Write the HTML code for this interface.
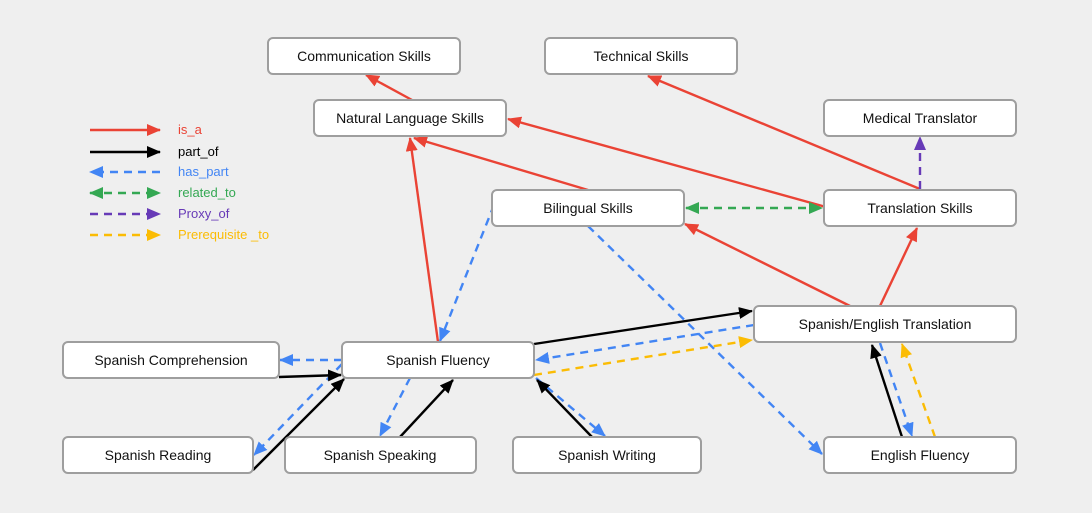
<!DOCTYPE html>
<html><head><meta charset="utf-8"><style>
html,body{margin:0;padding:0;background:#efefef;}
svg{display:block;}
text{font-family:"Liberation Sans",sans-serif;}
</style></head><body>
<svg width="1092" height="513" viewBox="0 0 1092 513" xmlns="http://www.w3.org/2000/svg">
<defs>
<marker id="r" markerWidth="14" markerHeight="12" refX="13" refY="6" orient="auto" markerUnits="userSpaceOnUse"><path d="M0,0L14,6L0,12z" fill="#ea4335"/></marker>
<marker id="k" markerWidth="14" markerHeight="12" refX="13" refY="6" orient="auto" markerUnits="userSpaceOnUse"><path d="M0,0L14,6L0,12z" fill="#000"/></marker>
<marker id="b" markerWidth="14" markerHeight="12" refX="13" refY="6" orient="auto" markerUnits="userSpaceOnUse"><path d="M0,0L14,6L0,12z" fill="#4285f4"/></marker>
<marker id="g" markerWidth="14" markerHeight="12" refX="13" refY="6" orient="auto-start-reverse" markerUnits="userSpaceOnUse"><path d="M0,0L14,6L0,12z" fill="#34a853"/></marker>
<marker id="p" markerWidth="14" markerHeight="12" refX="13" refY="6" orient="auto" markerUnits="userSpaceOnUse"><path d="M0,0L14,6L0,12z" fill="#673ab7"/></marker>
<marker id="y" markerWidth="14" markerHeight="12" refX="13" refY="6" orient="auto" markerUnits="userSpaceOnUse"><path d="M0,0L14,6L0,12z" fill="#fbbc04"/></marker>
</defs>
<rect width="1092" height="513" fill="#efefef"/>
<g stroke-width="2.4" fill="none">
<!-- legend -->
<line x1="90" y1="130" x2="160" y2="130" stroke="#ea4335" marker-end="url(#r)"/>
<line x1="90" y1="152" x2="160" y2="152" stroke="#000" marker-end="url(#k)"/>
<line x1="160" y1="172" x2="90" y2="172" stroke="#4285f4" stroke-dasharray="8,6" marker-end="url(#b)"/>
<line x1="90" y1="193" x2="160" y2="193" stroke="#34a853" stroke-dasharray="8,6" marker-start="url(#g)" marker-end="url(#g)"/>
<line x1="90" y1="214" x2="160" y2="214" stroke="#673ab7" stroke-dasharray="8,6" marker-end="url(#p)"/>
<line x1="90" y1="235" x2="160" y2="235" stroke="#fbbc04" stroke-dasharray="8,6" marker-end="url(#y)"/>
<!-- red -->
<line x1="412" y1="100" x2="366" y2="75" stroke="#ea4335" marker-end="url(#r)"/>
<line x1="920" y1="189" x2="648" y2="76" stroke="#ea4335" marker-end="url(#r)"/>
<line x1="826" y1="207" x2="508" y2="119" stroke="#ea4335" marker-end="url(#r)"/>
<line x1="588" y1="190" x2="414" y2="138" stroke="#ea4335" marker-end="url(#r)"/>
<line x1="438" y1="342" x2="410" y2="138" stroke="#ea4335" marker-end="url(#r)"/>
<line x1="850" y1="306" x2="685" y2="224" stroke="#ea4335" marker-end="url(#r)"/>
<line x1="880" y1="306" x2="917" y2="228" stroke="#ea4335" marker-end="url(#r)"/>
<!-- purple / green -->
<line x1="920" y1="189" x2="920" y2="137" stroke="#673ab7" stroke-dasharray="8,6" marker-end="url(#p)"/>
<line x1="686" y1="208" x2="822" y2="208" stroke="#34a853" stroke-dasharray="8,6" marker-start="url(#g)" marker-end="url(#g)"/>
<!-- blue dashed -->
<line x1="494" y1="205" x2="440" y2="341" stroke="#4285f4" stroke-dasharray="8,6" marker-end="url(#b)"/>
<line x1="588" y1="226" x2="822" y2="454" stroke="#4285f4" stroke-dasharray="8,6" marker-end="url(#b)"/>
<line x1="754" y1="325" x2="536" y2="360" stroke="#4285f4" stroke-dasharray="8,6" marker-end="url(#b)"/>
<line x1="536" y1="378" x2="605" y2="436" stroke="#4285f4" stroke-dasharray="8,6" marker-end="url(#b)"/>
<line x1="342" y1="360" x2="280" y2="360" stroke="#4285f4" stroke-dasharray="8,6" marker-end="url(#b)"/>
<line x1="342" y1="364" x2="254" y2="455" stroke="#4285f4" stroke-dasharray="8,6" marker-end="url(#b)"/>
<line x1="410" y1="378" x2="380" y2="436" stroke="#4285f4" stroke-dasharray="8,6" marker-end="url(#b)"/>
<line x1="880" y1="343" x2="912" y2="436" stroke="#4285f4" stroke-dasharray="8,6" marker-end="url(#b)"/>
<!-- yellow -->
<line x1="534" y1="375" x2="752" y2="340" stroke="#fbbc04" stroke-dasharray="8,6" marker-end="url(#y)"/>
<line x1="935" y1="437" x2="902" y2="344" stroke="#fbbc04" stroke-dasharray="8,6" marker-end="url(#y)"/>
<!-- black -->
<line x1="534" y1="344" x2="752" y2="311" stroke="#000" marker-end="url(#k)"/>
<line x1="592" y1="437" x2="537" y2="380" stroke="#000" marker-end="url(#k)"/>
<line x1="279" y1="377" x2="341" y2="375" stroke="#000" marker-end="url(#k)"/>
<line x1="253" y1="470" x2="344" y2="379" stroke="#000" marker-end="url(#k)"/>
<line x1="400" y1="437" x2="453" y2="380" stroke="#000" marker-end="url(#k)"/>
<line x1="902" y1="437" x2="872" y2="345" stroke="#000" marker-end="url(#k)"/>
</g>
<g fill="#fff" stroke="#9e9e9e" stroke-width="2">
<rect x="268" y="38" width="192" height="36" rx="5"/>
<rect x="545" y="38" width="192" height="36" rx="5"/>
<rect x="314" y="100" width="192" height="36" rx="5"/>
<rect x="824" y="100" width="192" height="36" rx="5"/>
<rect x="492" y="190" width="192" height="36" rx="5"/>
<rect x="824" y="190" width="192" height="36" rx="5"/>
<rect x="754" y="306" width="262" height="36" rx="5"/>
<rect x="63" y="342" width="216" height="36" rx="5"/>
<rect x="342" y="342" width="192" height="36" rx="5"/>
<rect x="63" y="437" width="190" height="36" rx="5"/>
<rect x="285" y="437" width="191" height="36" rx="5"/>
<rect x="513" y="437" width="188" height="36" rx="5"/>
<rect x="824" y="437" width="192" height="36" rx="5"/>
</g>
<g font-size="14" fill="#111" text-anchor="middle">
<text x="364" y="61">Communication Skills</text>
<text x="641" y="61">Technical Skills</text>
<text x="410" y="123">Natural Language Skills</text>
<text x="920" y="123">Medical Translator</text>
<text x="588" y="213">Bilingual Skills</text>
<text x="920" y="213">Translation Skills</text>
<text x="885" y="329">Spanish/English Translation</text>
<text x="171" y="365">Spanish Comprehension</text>
<text x="438" y="365">Spanish Fluency</text>
<text x="158" y="460">Spanish Reading</text>
<text x="380" y="460">Spanish Speaking</text>
<text x="607" y="460">Spanish Writing</text>
<text x="920" y="460">English Fluency</text>
</g>
<g font-size="13">
<text x="178" y="134" fill="#ea4335">is_a</text>
<text x="178" y="156" fill="#000">part_of</text>
<text x="178" y="176" fill="#4285f4">has_part</text>
<text x="178" y="197" fill="#34a853">related_to</text>
<text x="178" y="218" fill="#673ab7">Proxy_of</text>
<text x="178" y="239" fill="#fbbc04">Prerequisite _to</text>
</g>
</svg>
</body></html>
